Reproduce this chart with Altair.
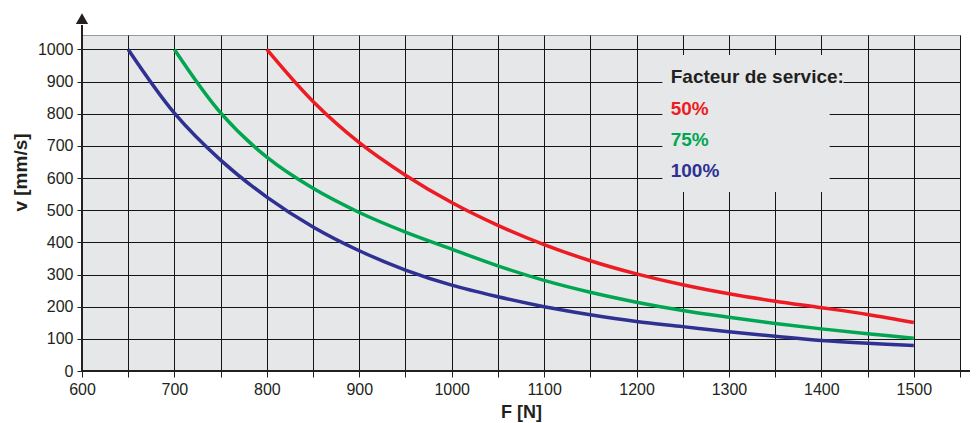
import altair as alt
import pandas as pd

# ---- data ----
F_50 = [800, 850, 900, 950, 1000, 1050, 1100, 1150, 1200, 1250, 1300, 1350, 1400, 1450, 1500]
v_50 = [1000, 838, 710, 609, 524, 453, 393, 343, 302, 268, 240, 217, 197, 176, 151]

F_75 = [700, 750, 800, 850, 900, 950, 1000, 1050, 1100, 1150, 1200, 1250, 1300, 1350, 1400, 1450, 1500]
v_75 = [1000, 803, 665, 568, 493, 432, 379, 327, 282, 245, 214, 188, 167, 148, 131, 116, 102]

F_100 = [650, 700, 750, 800, 850, 900, 950, 1000, 1050, 1100, 1150, 1200, 1250, 1300, 1350, 1400, 1450, 1500]
v_100 = [1000, 802, 656, 541, 448, 374, 314, 267, 231, 200, 175, 154, 138, 122, 108, 95, 86, 79]

series_names = ["50%", "75%", "100%"]
series_colors = ["#ed1c24", "#00a651", "#2e3192"]
legend_title = "Facteur de service:"

x_ticks = list(range(600, 1551, 50))
y_ticks = list(range(0, 1001, 100))
x_title = "F [N]"
y_title = "v [mm/s]"

BG = "#e6e7e8"
INK = "#231f20"
GRID = "#151515"
FONT = "Liberation Sans"

rows = []
for name, Fs, vs in zip(series_names, [F_50, F_75, F_100], [v_50, v_75, v_100]):
    for f, v in zip(Fs, vs):
        rows.append({"F": f, "v": v, "s": name})
curves = pd.DataFrame(rows)

xs = alt.Scale(domain=[600, 1550], nice=False, zero=False)
ys = alt.Scale(domain=[0, 1045], nice=False, zero=True)

# area behind the legend text that hides the grid
cover = pd.DataFrame({"F": [1228, 1409], "F2": [1409, 1424], "v": [557, 880], "v2": [983, 925]})
# axis lines with arrows (extend beyond the plotting frame)
axis_lines = pd.DataFrame({"F": [600, 600], "F2": [600, 1562], "v": [0, 0], "v2": [1076, 0]})
arrow_up = pd.DataFrame({"F": [600], "v": [1096]})
arrow_right = pd.DataFrame({"F": [1566], "v": [0]})

x_axis = alt.Axis(
    values=x_ticks, labelExpr="datum.value % 100 == 0 ? datum.label : ''",
    format="d", domain=False, grid=True, gridColor=GRID, gridWidth=1, gridOpacity=1,
    tickSize=6, tickColor=INK, tickWidth=1, labelFont=FONT, labelFontSize=16,
    labelColor=INK, labelPadding=4, labelFlush=False, labelOverlap=False, title=x_title,
    titleFont=FONT, titleFontSize=18, titleFontWeight="bold", titleColor=INK, titleX=439,
    titleY=46, titleBaseline="alphabetic", titleAlign="center",
)
y_axis = alt.Axis(
    values=y_ticks, format="d", domain=False, grid=True, gridColor=GRID, gridWidth=1,
    gridOpacity=1, tickSize=5, tickColor=INK, tickWidth=1, labelFont=FONT, labelFontSize=16,
    labelColor=INK, labelPadding=4, labelFlush=False, labelOverlap=False, title=y_title,
    titleFont=FONT, titleFontSize=19, titleFontWeight="bold", titleColor=INK, titleX=-56,
    titleY=137, titleBaseline="alphabetic", titleAlign="center", titleAngle=270,
)

X = alt.X("F:Q", scale=xs, axis=x_axis)
Y = alt.Y("v:Q", scale=ys, axis=y_axis)

cover_layer = alt.Chart(cover).mark_rect(fill=BG, strokeWidth=0).encode(
    x=X, x2="F2:Q", y=Y, y2="v2:Q",
)

lines = alt.Chart(curves).mark_line(strokeWidth=3.5, interpolate="catmull-rom").encode(
    x=X, y=Y,
    color=alt.Color("s:N", scale=alt.Scale(domain=series_names, range=series_colors), legend=None),
    detail="s:N",
)

rules = alt.Chart(axis_lines).mark_rule(strokeWidth=2, color=INK).encode(
    x=X, x2="F2:Q", y=Y, y2="v2:Q"
)
y_arrow = alt.Chart(arrow_up).mark_point(shape="triangle-up", filled=True, size=150, color=INK, opacity=1).encode(
    x=X, y=Y
)
x_arrow = alt.Chart(arrow_right).mark_point(shape="triangle-right", filled=True, size=70, color=INK, opacity=1).encode(
    x=X, y=Y
)

legend_df = pd.DataFrame({
    "t": [legend_title] + series_names,
    "F": [1237, 1237, 1237, 1237],
    "v": [897, 796, 700, 602],
    "c": [INK] + series_colors,
})
legend_text = alt.Chart(legend_df).mark_text(
    align="left", baseline="alphabetic", font=FONT, fontSize=19, fontWeight="bold"
).encode(
    x=X, y=Y, text="t:N", color=alt.Color("c:N", scale=None),
)

chart = alt.layer(cover_layer, lines, rules, y_arrow, x_arrow, legend_text).properties(
    width=878, height=336,
    padding={"left": 74, "top": 27, "right": 10, "bottom": 60},
    autosize=alt.AutoSizeParams(type="none"),
).configure_view(fill=BG, stroke="#9a9a9a", strokeWidth=1)

chart.save("out.html", embed_options={"renderer": "svg", "actions": False})
